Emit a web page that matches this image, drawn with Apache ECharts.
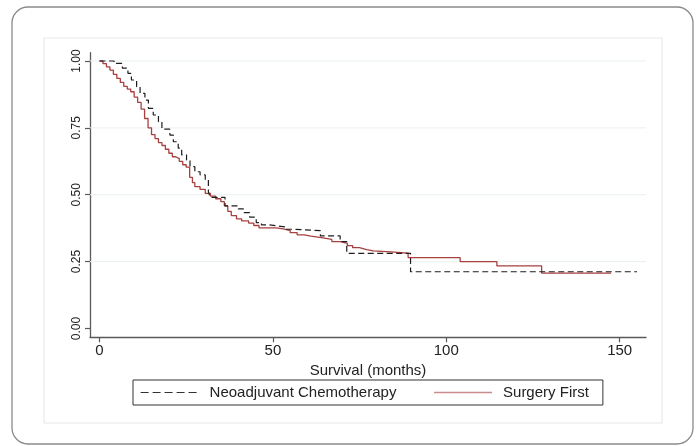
<!DOCTYPE html>
<html>
<head>
<meta charset="utf-8">
<script src="https://cdn.jsdelivr.net/npm/echarts@6/dist/echarts.min.js"></script>
<style>
html,body{margin:0;padding:0;background:#fff;}
#chart{width:696px;height:446px;}
</style>
</head>
<body>
<div id="chart"></div>
<script>
// Kaplan-Meier step points: time (months) and survival after the step
const neoTime = [0, 4.2, 6.6, 8.2, 9.2, 10.7, 11.7, 13.1, 14.1, 15.5, 17.0, 18.0, 20.3, 21.3, 22.7, 23.7, 25.1, 26.1, 27.5, 29.0, 30.5, 31.4, 31.9, 36.2, 40.0, 41.5, 43.3, 45.2, 46.7, 49.0, 53.5, 55.4, 63.7, 69.4, 71.3, 89.7, 155.0];
const neoSurv = [1.0, 0.991, 0.973, 0.954, 0.929, 0.904, 0.879, 0.854, 0.823, 0.798, 0.773, 0.745, 0.723, 0.698, 0.674, 0.649, 0.630, 0.605, 0.586, 0.574, 0.555, 0.511, 0.490, 0.458, 0.447, 0.433, 0.416, 0.396, 0.387, 0.380, 0.371, 0.366, 0.346, 0.325, 0.281, 0.212, 0.212];

const sfTime = [0, 1, 2, 3, 4, 5, 6, 7, 8, 9, 10, 11, 12, 13, 14, 15, 16, 17, 18, 19, 20, 21, 22, 23, 24, 25, 26, 26.8, 27.5, 29, 30.5, 32, 33.5, 35, 36, 37, 38, 39.5, 41, 43, 44.5, 46, 51, 53, 55, 57, 59, 61, 64, 67, 69.5, 71.5, 73, 75, 77, 79, 84, 89, 104, 114.6, 127.5, 147.5];
const sfSurv = [1.0, 0.99, 0.978, 0.966, 0.95, 0.935, 0.92, 0.905, 0.895, 0.885, 0.865, 0.845, 0.82, 0.785, 0.75, 0.725, 0.71, 0.695, 0.684, 0.67, 0.655, 0.642, 0.635, 0.625, 0.612, 0.603, 0.565, 0.545, 0.53, 0.52, 0.505, 0.495, 0.485, 0.474, 0.458, 0.438, 0.422, 0.41, 0.402, 0.394, 0.385, 0.376, 0.372, 0.366, 0.358, 0.35, 0.345, 0.34, 0.333, 0.325, 0.318, 0.31, 0.302, 0.295, 0.29, 0.286, 0.282, 0.265, 0.25, 0.234, 0.207, 0.207];

const xTicks = [0, 50, 100, 150];
const yTicks = [0, 0.25, 0.5, 0.75, 1];
const yGrid = [0.25, 0.5, 0.75, 1];
const seriesNames = ['Neoadjuvant Chemotherapy', 'Surgery First'];
const xTitle = 'Survival (months)';

const X_MIN = -2.74, X_MAX = 157.6;
const zip = (a, b) => a.map((v, i) => [v, b[i]]);

const gridSeries = yGrid.map(v => ({
  type: 'line', name: 'grid' + v, silent: true, z: 1, symbol: 'none', showSymbol: false,
  data: [[X_MIN, v], [X_MAX, v]],
  lineStyle: {color: '#eaf1f1', width: 1}
}));

const chart = echarts.init(document.getElementById('chart'), null, {renderer: 'canvas'});
const axisColor = '#5a5a5a';
chart.setOption({
  animation: false,
  backgroundColor: '#ffffff',
  graphic: [
    {type: 'rect', z: -10, shape: {x: 12, y: 7, width: 681, height: 437, r: 16},
     style: {fill: '#ffffff', stroke: '#8a8a8a', lineWidth: 1.3}},
    {type: 'rect', z: -9, shape: {x: 44, y: 38, width: 618, height: 385},
     style: {fill: '#ffffff', stroke: '#e6e6e6', lineWidth: 1}}
  ],
  grid: {left: 90, right: 50, top: 52.7, bottom: 108.7, containLabel: false},
  xAxis: {
    type: 'value', min: X_MIN, max: X_MAX,
    name: xTitle, nameLocation: 'middle', nameGap: 17,
    nameTextStyle: {fontFamily: 'Liberation Sans', fontSize: 15, color: '#222'},
    axisLine: {show: true, onZero: false, lineStyle: {color: axisColor, width: 1.3}},
    axisTick: {show: true, length: 5, customValues: xTicks, lineStyle: {color: axisColor, width: 1.2}},
    axisLabel: {customValues: xTicks, margin: 6, fontFamily: 'Liberation Sans', fontSize: 15, color: '#222'},
    splitLine: {show: false}
  },
  yAxis: {
    type: 'value', min: -0.033, max: 1.031,
    axisLine: {show: true, onZero: false, lineStyle: {color: axisColor, width: 1.3}},
    axisTick: {show: true, length: 5, customValues: yTicks, lineStyle: {color: axisColor, width: 1.2}},
    axisLabel: {customValues: yTicks, rotate: 90, margin: 7, fontFamily: 'Liberation Sans', fontSize: 12, color: '#222',
      formatter: v => v.toFixed(2)},
    splitLine: {show: false}
  },
  legend: {
    show: true,
    left: 133, top: 380,
    orient: 'horizontal',
    padding: [5, 14, 5, 7],
    borderColor: '#333', borderWidth: 1,
    itemWidth: 58, itemHeight: 14, itemGap: 37,
    itemStyle: {color: 'rgba(0,0,0,0)', borderColor: 'rgba(0,0,0,0)', borderWidth: 0, opacity: 0},
    textStyle: {fontFamily: 'Liberation Sans', fontSize: 15, color: '#222', padding: [0, 0, 0, 6]},
    data: [
      {name: seriesNames[0], lineStyle: {color: '#333', width: 1.2, type: [8, 4]}},
      {name: seriesNames[1], lineStyle: {color: '#c98b8b', width: 1.3}}
    ]
  },
  series: gridSeries.concat([
    {
      type: 'line', name: seriesNames[1], step: 'end', symbol: 'none', showSymbol: false, z: 3,
      data: zip(sfTime, sfSurv),
      lineStyle: {color: '#a8403f', width: 1.3},
      itemStyle: {color: '#a8403f'}
    },
    {
      type: 'line', name: seriesNames[0], step: 'end', symbol: 'none', showSymbol: false, z: 4,
      data: zip(neoTime, neoSurv),
      lineStyle: {color: '#1e1e1e', width: 1.2, type: [6, 3.5]},
      itemStyle: {color: '#1e1e1e'}
    }
  ])
});
</script>
</body>
</html>
